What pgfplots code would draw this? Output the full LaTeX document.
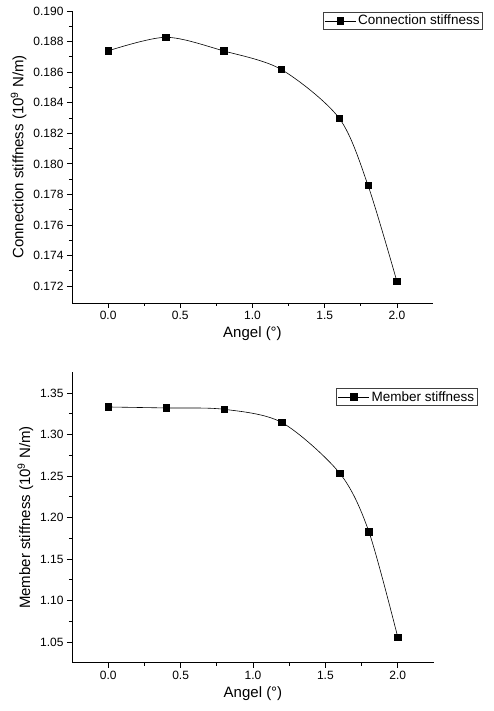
\documentclass[border=0pt]{standalone}
\usepackage{fontspec}
\setmainfont{Liberation Sans}
\usepackage{pgfplots}
\pgfplotsset{compat=1.18}

\pgfplotsset{
  stiff/.style={
    scale only axis,
    axis lines*=left,
    tick align=outside,
    xmin=-0.25, xmax=2.25,
    xtick={0,0.5,1,1.5,2},
    minor tick num=1,
    major tick length=5pt, minor tick length=3pt,
    tick style={black, line width=0.8pt},
    axis line style={line width=0.8pt},
    ticklabel style={font=\fontsize{12}{14}\selectfont},
    label style={font=\fontsize{15}{18}\selectfont},
    xlabel={Angel (°)},
    /pgf/number format/assume math mode=true,
    xticklabel style={/pgf/number format/.cd, fixed, fixed zerofill, precision=1},
    legend style={draw=black!75, line width=0.6pt, anchor=north east,
      font=\fontsize{13.5}{16}\selectfont, inner sep=1pt},
    legend image code/.code={
      \draw[mark repeat=2, mark phase=2] plot coordinates {(0cm,0cm) (0.55cm,0cm) (1.1cm,0cm)};},
  },
  curve/.style={black, line width=0.6pt, smooth, mark=square*, mark size=3.2pt,
    mark options={solid, fill=black}},
}

\begin{document}
\begin{tikzpicture}
\path[use as bounding box] (0,0) rectangle (493pt,711pt);

% top: connection stiffness
\begin{axis}[stiff,
  at={(72pt,408pt)}, anchor=south west,
  width=361pt, height=292pt,
  ymin=0.1709, ymax=0.190,
  ytick={0.172,0.174,0.176,0.178,0.180,0.182,0.184,0.186,0.188,0.190},
  yticklabel style={/pgf/number format/.cd, fixed, fixed zerofill, precision=3},
  ylabel={Connection stiffness (10\textsuperscript{9} N/m)},
  legend style={at={(1.138,0.997)}},
]
\addplot[curve] coordinates {
  (0.0,0.18739) (0.4,0.18828) (0.8,0.18739) (1.2,0.18617)
  (1.6,0.18299) (1.8,0.17859) (2.0,0.17231)};
\legend{Connection stiffness}
\end{axis}

% bottom: member stiffness
\begin{axis}[stiff,
  at={(72pt,48.3pt)}, anchor=south west,
  width=362pt, height=290.4pt,
  ymin=1.025, ymax=1.375,
  ytick={1.05,1.10,1.15,1.20,1.25,1.30,1.35},
  yticklabel style={/pgf/number format/.cd, fixed, fixed zerofill, precision=2},
  ylabel={Member stiffness (10\textsuperscript{9} N/m)},
  legend style={at={(1.12,0.946)}},
]
\addplot[curve] coordinates {
  (0.0,1.3332) (0.4,1.3320) (0.8,1.3304) (1.2,1.3144)
  (1.6,1.2531) (1.8,1.1830) (2.0,1.0556)};
\legend{Member stiffness}
\end{axis}
\end{tikzpicture}
\end{document}
